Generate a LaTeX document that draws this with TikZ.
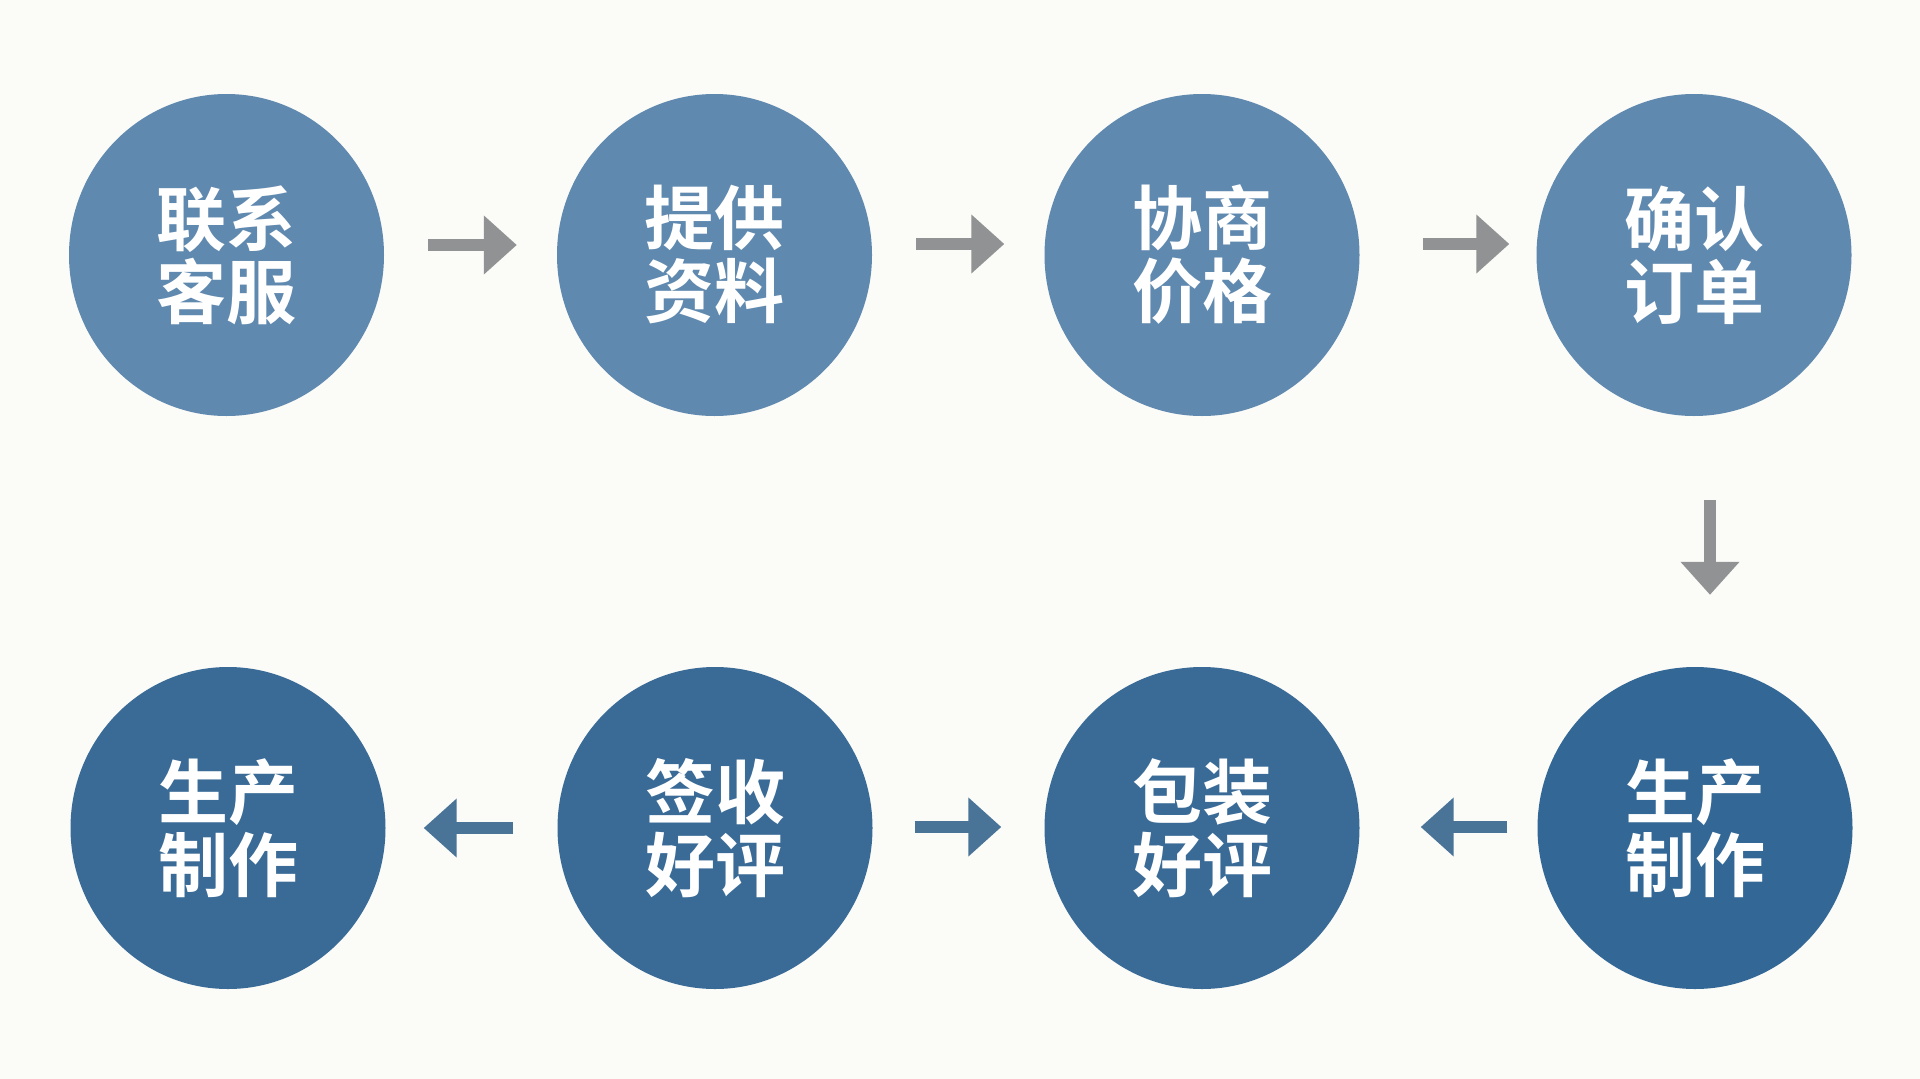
\documentclass[tikz,border=0pt]{standalone}
\usepackage{fontspec}
\newfontfamily\cjk{Noto Sans CJK SC}[BoldFont={Noto Sans CJK SC Bold}]
\usetikzlibrary{shapes.geometric,arrows.meta}
\definecolor{bg}{HTML}{FBFBF8}
\definecolor{topblue}{HTML}{6089AF}
\definecolor{botblue}{HTML}{3A6B97}
\definecolor{botblueB}{HTML}{336795}
\definecolor{grayarrow}{HTML}{919294}
\definecolor{bluearrow}{HTML}{4A7398}
\tikzset{
  stepnode/.style={ellipse, minimum width=315pt, minimum height=322pt, inner sep=0pt,
    text=white, align=center, font=\cjk\bfseries\fontsize{70}{73}\selectfont},
  flowarrow/.style={line width=12pt, -{Triangle[width=57pt,length=33pt]}},
  grayflow/.style={flowarrow, draw=grayarrow, fill=grayarrow},
  blueflow/.style={flowarrow, draw=bluearrow, fill=bluearrow}
}
\begin{document}
\begin{tikzpicture}[x=1pt,y=-1pt]
\useasboundingbox[fill=bg] (0,0) rectangle (1920,1079);
% top row
\node[stepnode, fill=topblue] (c1) at (226.5,255) {联系\\客服};
\node[stepnode, fill=topblue] (c2) at (714.5,255) {提供\\资料};
\node[stepnode, fill=topblue] (c3) at (1202,255) {协商\\价格};
\node[stepnode, fill=topblue] (c4) at (1694,255) {确认\\订单};
% bottom row
\node[stepnode, fill=botblue] (c5) at (228,828) {生产\\制作};
\node[stepnode, fill=botblue] (c6) at (715,828) {签收\\好评};
\node[stepnode, fill=botblue] (c7) at (1202,828) {包装\\好评};
\node[stepnode, fill=botblueB] (c8) at (1695,828) {生产\\制作};
% top arrows
\draw[grayflow] ([xshift=44pt,yshift=10pt]c1.east) -- ([xshift=-40pt,yshift=10pt]c2.west);
\draw[grayflow] ([xshift=44pt,yshift=11pt]c2.east) -- ([xshift=-40pt,yshift=11pt]c3.west);
\draw[grayflow] ([xshift=63pt,yshift=11pt]c3.east) -- ([xshift=-27pt,yshift=11pt]c4.west);
% vertical arrow
\draw[grayflow] ([xshift=16pt,yshift=-84pt]c4.south) -- ([xshift=15pt,yshift=72pt]c8.north);
% bottom arrows
\draw[blueflow] ([xshift=-30pt,yshift=1pt]c8.west) -- ([xshift=61pt,yshift=1pt]c7.east);
\draw[blueflow] ([xshift=42pt,yshift=1pt]c6.east) -- ([xshift=-43pt,yshift=1pt]c7.west);
\draw[blueflow] ([xshift=-44pt,yshift=0pt]c6.west) -- ([xshift=38pt,yshift=0pt]c5.east);
\end{tikzpicture}
\end{document}
